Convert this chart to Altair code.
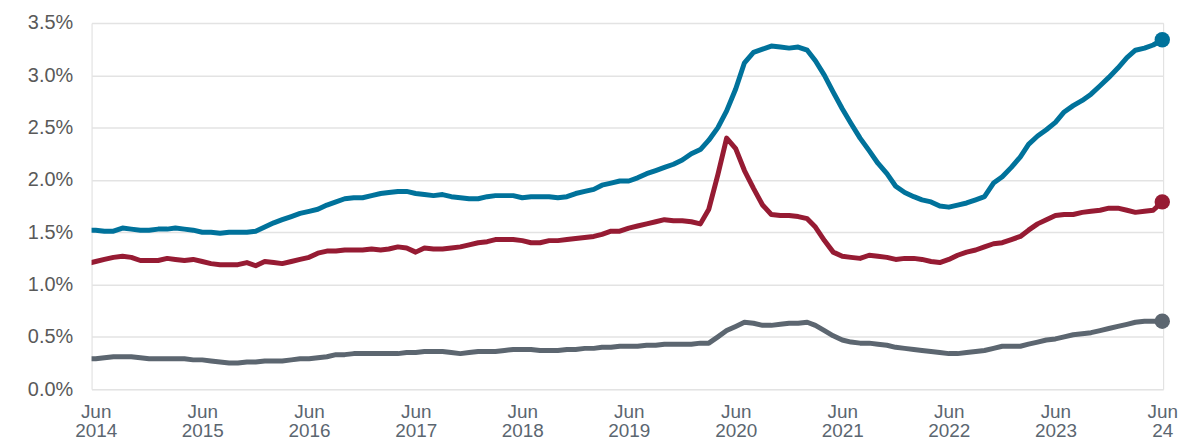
import altair as alt
import pandas as pd

# Monthly observations, May 2014 .. Jun 2024 (values in %)
dates = pd.date_range("2014-05-01", "2024-06-01", freq="MS").strftime("%Y-%m-%dT00:00:00").tolist()

blue = [
    1.52, 1.52, 1.51, 1.51, 1.54, 1.53, 1.52, 1.52, 1.53, 1.53, 1.54, 1.53, 1.52,
    1.50, 1.50, 1.49, 1.50, 1.50, 1.50, 1.51, 1.55, 1.59, 1.62, 1.65, 1.68,
    1.70, 1.72, 1.76, 1.79, 1.82, 1.83, 1.83, 1.85, 1.87, 1.88, 1.89, 1.89,
    1.87, 1.86, 1.85, 1.86, 1.84, 1.83, 1.82, 1.82, 1.84, 1.85, 1.85, 1.85,
    1.83, 1.84, 1.84, 1.84, 1.83, 1.84, 1.87, 1.89, 1.91, 1.95, 1.97, 1.99,
    1.99, 2.02, 2.06, 2.09, 2.12, 2.15, 2.19, 2.25, 2.29, 2.38, 2.50, 2.66,
    2.87, 3.12, 3.22, 3.25, 3.28, 3.27, 3.26, 3.27, 3.24, 3.14, 3.00, 2.84,
    2.68, 2.54, 2.40, 2.28, 2.16, 2.06, 1.94, 1.88, 1.84, 1.81, 1.79, 1.75,
    1.74, 1.76, 1.78, 1.81, 1.84, 1.97, 2.03, 2.12, 2.22, 2.34, 2.42, 2.48,
    2.55, 2.65, 2.71, 2.76, 2.82, 2.90, 2.98, 3.07, 3.17, 3.24, 3.26, 3.29,
    3.34,
]

red = [
    1.20, 1.22, 1.24, 1.26, 1.27, 1.26, 1.23, 1.23, 1.23, 1.25, 1.24, 1.23, 1.24,
    1.22, 1.20, 1.19, 1.19, 1.19, 1.21, 1.18, 1.22, 1.21, 1.20, 1.22, 1.24,
    1.26, 1.30, 1.32, 1.32, 1.33, 1.33, 1.33, 1.34, 1.33, 1.34, 1.36, 1.35,
    1.31, 1.35, 1.34, 1.34, 1.35, 1.36, 1.38, 1.40, 1.41, 1.43, 1.43, 1.43,
    1.42, 1.40, 1.40, 1.42, 1.42, 1.43, 1.44, 1.45, 1.46, 1.48, 1.51, 1.51,
    1.54, 1.56, 1.58, 1.60, 1.62, 1.61, 1.61, 1.60, 1.58, 1.72, 2.05, 2.40,
    2.30, 2.09, 1.92, 1.76, 1.67, 1.66, 1.66, 1.65, 1.63, 1.55, 1.42, 1.31,
    1.27, 1.26, 1.25, 1.28, 1.27, 1.26, 1.24, 1.25, 1.25, 1.24, 1.22, 1.21,
    1.24, 1.28, 1.31, 1.33, 1.36, 1.39, 1.40, 1.43, 1.46, 1.52, 1.58, 1.62,
    1.66, 1.67, 1.67, 1.69, 1.70, 1.71, 1.73, 1.73, 1.71, 1.69, 1.70, 1.71,
    1.79,
]

gray = [
    0.29, 0.29, 0.30, 0.31, 0.31, 0.31, 0.30, 0.29, 0.29, 0.29, 0.29, 0.29, 0.28,
    0.28, 0.27, 0.26, 0.25, 0.25, 0.26, 0.26, 0.27, 0.27, 0.27, 0.28, 0.29,
    0.29, 0.30, 0.31, 0.33, 0.33, 0.34, 0.34, 0.34, 0.34, 0.34, 0.34, 0.35,
    0.35, 0.36, 0.36, 0.36, 0.35, 0.34, 0.35, 0.36, 0.36, 0.36, 0.37, 0.38,
    0.38, 0.38, 0.37, 0.37, 0.37, 0.38, 0.38, 0.39, 0.39, 0.40, 0.40, 0.41,
    0.41, 0.41, 0.42, 0.42, 0.43, 0.43, 0.43, 0.43, 0.44, 0.44, 0.50, 0.56,
    0.60, 0.64, 0.63, 0.61, 0.61, 0.62, 0.63, 0.63, 0.64, 0.61, 0.56, 0.51,
    0.47, 0.45, 0.44, 0.44, 0.43, 0.42, 0.40, 0.39, 0.38, 0.37, 0.36, 0.35,
    0.34, 0.34, 0.35, 0.36, 0.37, 0.39, 0.41, 0.41, 0.41, 0.43, 0.45, 0.47,
    0.48, 0.50, 0.52, 0.53, 0.54, 0.56, 0.58, 0.60, 0.62, 0.64, 0.65, 0.65,
    0.65,
]

series_names = ["blue", "red", "gray"]
series_colors = ["#00729b", "#961b33", "#5c6670"]
tick_years = list(range(2014, 2025))

rows = []
for name, vals in zip(series_names, [blue, red, gray]):
    n = len(vals)
    for i, (d, v) in enumerate(zip(dates, vals)):
        rows.append({"date": d, "value": v, "series": name, "last": i == n - 1})
df = pd.DataFrame(rows)

x_enc = alt.X(
    "date:T",
    scale=alt.Scale(
        domain=[
            alt.DateTime(year=2014, month=5, date=18),
            alt.DateTime(year=2024, month=6, date=4),
        ]
    ),
    axis=alt.Axis(
        values=[alt.DateTime(year=y, month=6, date=1) for y in tick_years],
        labelExpr="[timeFormat(datum.value, '%b'), year(datum.value) == 2024 ? '24' : timeFormat(datum.value, '%Y')]",
        grid=False,
        domain=False,
        ticks=False,
        labelFont="Liberation Sans",
        labelFontSize=19,
        labelColor="#5b6670",
        labelPadding=13,
        labelLineHeight=20,
        labelAngle=0,
        labelAlign="center",
        labelBaseline="top",
        labelBound=False,
        labelOverlap=False,
        title=None,
    ),
)

y_enc = alt.Y(
    "value:Q",
    scale=alt.Scale(domain=[0, 3.5], nice=False, zero=True),
    axis=alt.Axis(
        values=[0, 0.5, 1.0, 1.5, 2.0, 2.5, 3.0, 3.5],
        labelExpr="format(datum.value, '.1f') + '%'",
        grid=True,
        gridColor="#e3e3e3",
        gridWidth=1.5,
        domain=False,
        ticks=False,
        labelFont="Liberation Sans",
        labelFontSize=20,
        labelColor="#595959",
        labelPadding=19,
        title=None,
    ),
)

color_enc = alt.Color(
    "series:N",
    scale=alt.Scale(domain=series_names, range=series_colors),
    legend=None,
)

lines = alt.Chart(df).mark_line(strokeWidth=5, clip=True, strokeJoin="round", strokeCap="round").encode(
    x=x_enc, y=y_enc, color=color_enc, detail="series:N"
)

dots = alt.Chart(df).transform_filter(
    alt.datum.last == True
).mark_point(filled=True, size=240, opacity=1).encode(
    x=x_enc, y=y_enc, color=color_enc
)

chart = alt.layer(lines, dots).properties(
    width=1077,
    height=368,
    padding={"left": 84, "top": 14, "right": 30, "bottom": 52},
    autosize=alt.AutoSizeParams(type="none"),
).configure_view(stroke=None).configure(background="white")

chart.save("out.html", embed_options={"renderer": "svg", "actions": False})
